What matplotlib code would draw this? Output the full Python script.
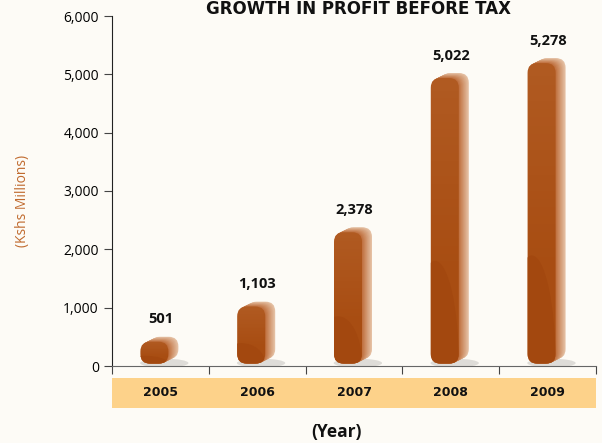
import matplotlib
matplotlib.use("Agg")
import matplotlib.pyplot as plt
from matplotlib.patches import FancyBboxPatch, Rectangle, Ellipse
import matplotlib.transforms as mtransforms
import numpy as np

# Dados
years = ["2005", "2006", "2007", "2008", "2009"]
profit = [501, 1103, 2378, 5022, 5278]
yticks = [0, 1000, 2000, 3000, 4000, 5000, 6000]

bg = "#fdfbf6"
front_col = np.array([0xa8, 0x4d, 0x12]) / 255
side_dark = np.array([0xbd, 0x6b, 0x38]) / 255
side_light = np.array([0xe6, 0xc2, 0xa6]) / 255

fig = plt.figure(figsize=(6.02, 4.43), dpi=100, facecolor=bg)
ax = fig.add_axes([112 / 602, 77 / 443, 484 / 602, 350 / 443], facecolor=bg)

ax.set_xlim(-0.5, 4.5)
ax.set_ylim(0, 6000)

# unidades de dados por pixel
px_x = 5 / 484
px_y = 6000 / 350
aspect = px_y / px_x

w = 28 * px_x          # largura da face frontal
x0 = -20 * px_x        # deslocamento da face frontal em relacao ao centro
dx, dy = 10 * px_x, 5 * px_y   # profundidade do efeito 3d
base = 40
r = 0.1
nsteps = 14

for i, v in enumerate(profit):
    h = v - dy - base
    # sombra
    ax.add_patch(Ellipse((i + 0.04, base + 10), 0.5, 150, color="#000000",
                         alpha=0.12, lw=0, zorder=1))
    # extrusao (lateral e topo)
    for k in range(nsteps, 0, -1):
        t = k / nsteps
        col = side_dark * (1 - t) + side_light * t
        ax.add_patch(FancyBboxPatch((i + x0 + dx * t, base + dy * t), w, h,
                                    boxstyle=f"round,pad=0,rounding_size={r}",
                                    mutation_aspect=aspect, fc=col, ec="none", zorder=2))
    # face frontal
    front = FancyBboxPatch((i + x0, base), w, h,
                           boxstyle=f"round,pad=0,rounding_size={r}",
                           mutation_aspect=aspect, fc=front_col, ec="none", zorder=3)
    ax.add_patch(front)
    # brilho na parte de cima da face frontal
    grad = np.linspace(0, 1, 100).reshape(-1, 1)
    rgba = np.zeros((100, 1, 4))
    rgba[..., :3] = [1.0, 0.85, 0.7]
    rgba[..., 3] = 0.10 * grad[:, 0:1]
    im = ax.imshow(rgba, extent=(i + x0, i + x0 + w, base + h * 0.3, base + h),
                   origin="lower", aspect="auto", zorder=4, interpolation="bilinear")
    im.set_clip_path(front)
    # arco escuro na parte de baixo
    arc = Ellipse((i + x0 + w * 0.15, base), w * 1.7, h * 0.72, fc="#a3480f",
                  ec="none", zorder=5)
    ax.add_patch(arc)
    arc.set_clip_path(front)

    ax.text(i, v + 180, f"{v:,}", ha="center", va="bottom", fontsize=10.5,
            fontweight="bold", color="#111111", family="Open Sans")

# eixos
for s in ["top", "right"]:
    ax.spines[s].set_visible(False)
ax.spines["left"].set_color("#222222")
ax.spines["bottom"].set_color("#666666")
ax.set_yticks(yticks)
ax.set_yticklabels([f"{t:,}" for t in yticks], fontsize=10, family="Open Sans")
ax.tick_params(axis="y", length=6, color="#444444")
ax.set_xticks([-0.5, 0.5, 1.5, 2.5, 3.5, 4.5])
ax.set_xticklabels([])
ax.tick_params(axis="x", length=6, direction="out", color="#444444")

# faixa dos anos
trans = mtransforms.blended_transform_factory(ax.transData, ax.transAxes)
ax.add_patch(Rectangle((0, -0.12), 1, 0.086, transform=ax.transAxes,
                       fc="#fdd28a", ec="none", clip_on=False))
for i, y in enumerate(years):
    ax.text(i, -0.077, y, transform=trans, ha="center", va="center",
            fontsize=9, fontweight="bold", family="Liberation Sans Narrow", color="#111111")

fig.text(336 / 602, 1 - 432 / 443, "(Year)", ha="center", va="center",
         fontsize=12.5, fontweight="bold", family="Open Sans", color="#111111")
fig.text(23 / 602, 1 - 201 / 443, "(Kshs Millions)", rotation=90, ha="center", va="center",
         fontsize=10, family="Open Sans", color="#c06a2e")
fig.text(359 / 602, 1 - 9 / 443, "GROWTH IN PROFIT BEFORE TAX", ha="center", va="center",
         fontsize=12, fontweight="bold", family="DejaVu Sans", color="#111111")

fig.savefig("out.png", dpi=100, facecolor=bg)
